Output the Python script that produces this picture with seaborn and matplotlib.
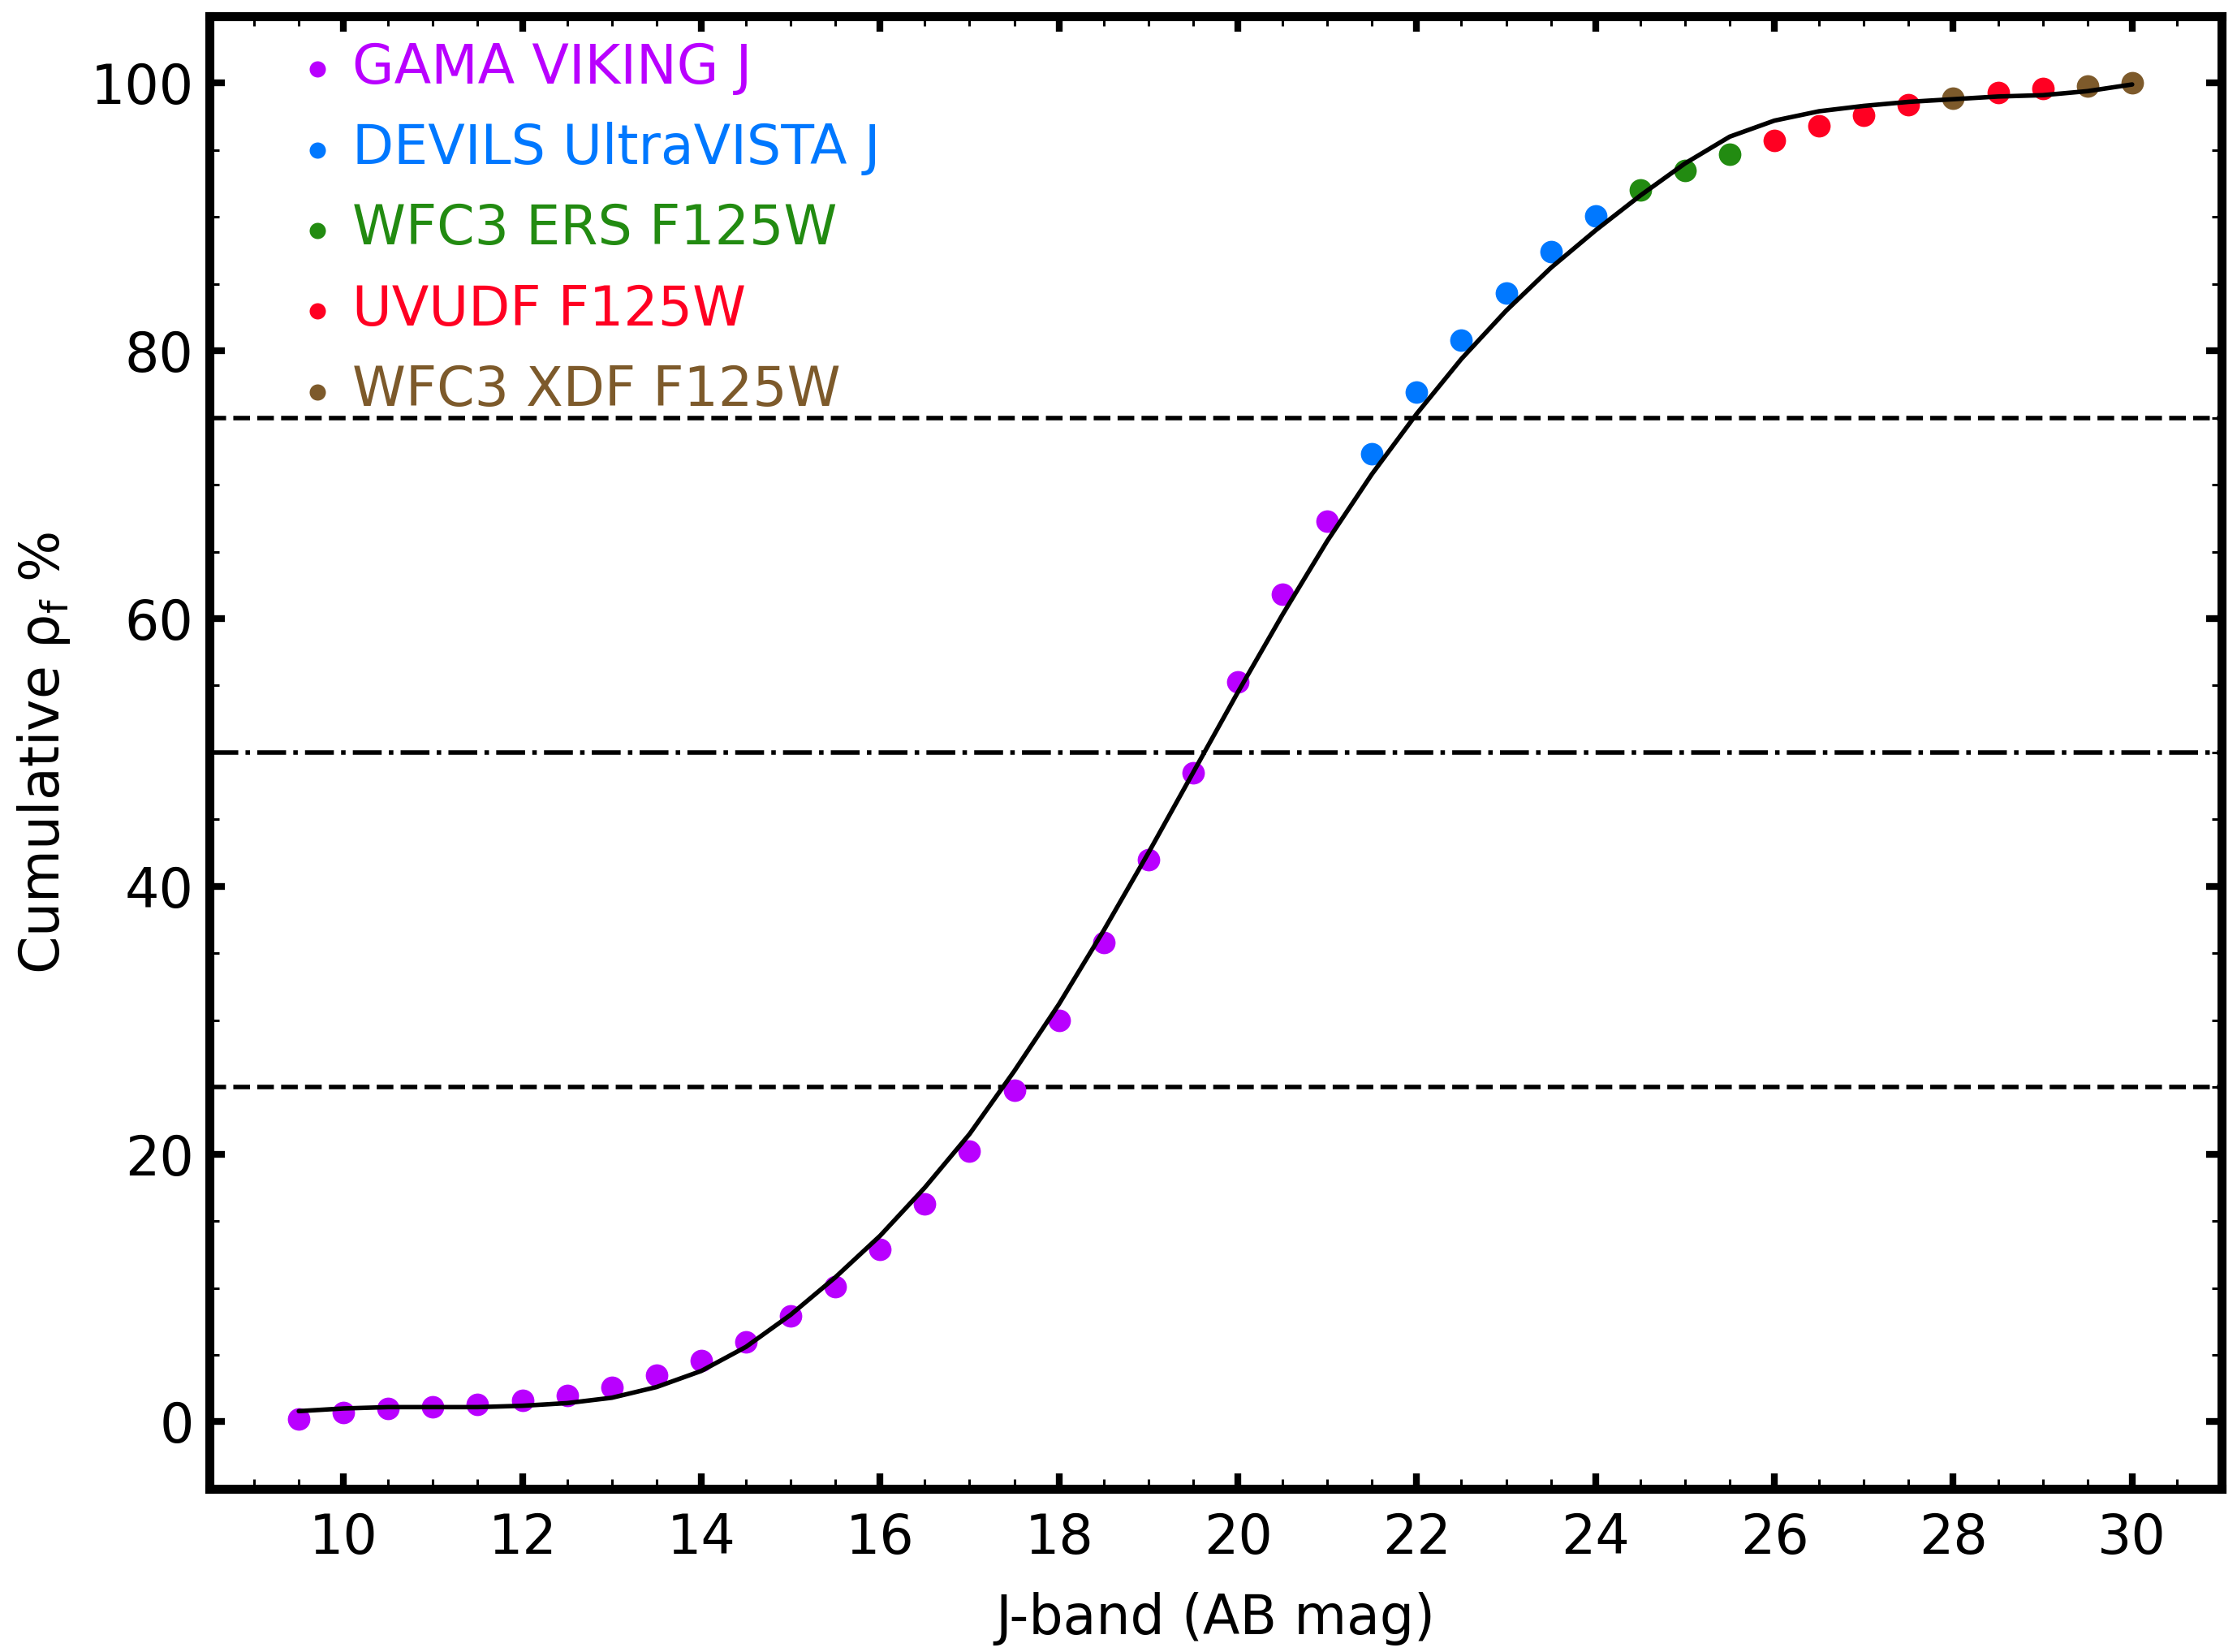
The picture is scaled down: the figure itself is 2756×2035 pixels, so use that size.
import numpy as np
import pandas as pd
import matplotlib
matplotlib.use('Agg')
import matplotlib.pyplot as plt
import seaborn as sns

# J-band magnitude bins and cumulative flux density fraction (%)
mag = [9.5, 10.0, 10.5, 11.0, 11.5, 12.0, 12.5, 13.0, 13.5, 14.0, 14.5, 15.0,
       15.5, 16.0, 16.5, 17.0, 17.5, 18.0, 18.5, 19.0, 19.5, 20.0, 20.5, 21.0,
       21.5, 22.0, 22.5, 23.0, 23.5, 24.0,
       24.5, 25.0, 25.5,
       26.0, 26.5, 27.0, 27.5, 28.0, 28.5, 29.0, 29.5, 30.0]
cum_pct = [0.2, 0.7, 1.0, 1.1, 1.3, 1.6, 2.0, 2.6, 3.5, 4.6, 6.0, 7.9,
           10.1, 12.9, 16.3, 20.2, 24.8, 30.0, 35.8, 42.0, 48.5, 55.3, 61.8, 67.3,
           72.3, 76.9, 80.8, 84.3, 87.4, 90.1,
           92.0, 93.5, 94.7,
           95.7, 96.8, 97.6, 98.4, 98.9, 99.3, 99.6, 99.8, 100.0]
survey = (['GAMA VIKING J'] * 24 + ['DEVILS UltraVISTA J'] * 6 +
          ['WFC3 ERS F125W'] * 3 +
          ['UVUDF F125W'] * 4 + ['WFC3 XDF F125W'] + ['UVUDF F125W'] * 2 +
          ['WFC3 XDF F125W'] * 2)

# smooth model curve
fit_mag = mag
fit_pct = [0.8, 1.0, 1.1, 1.1, 1.1, 1.2, 1.4, 1.8, 2.6, 3.8, 5.6, 8.0,
           10.8, 13.9, 17.5, 21.5, 26.2, 31.2, 36.7, 42.5, 48.5, 54.5, 60.3, 65.8,
           70.8, 75.3, 79.4, 83.0, 86.2, 89.0, 91.6, 94.0, 96.0,
           97.2, 97.9, 98.3, 98.6, 98.8, 99.0, 99.1, 99.4, 99.9]

quartiles = [25, 50, 75]
quartile_styles = ['--', '-.', '--']

surveys = ['GAMA VIKING J', 'DEVILS UltraVISTA J', 'WFC3 ERS F125W',
           'UVUDF F125W', 'WFC3 XDF F125W']
colors = ['#b900ff', '#0078ff', '#228b11', '#ff0022', '#7d5a2b']

df = pd.DataFrame({'mag': mag, 'cum': cum_pct, 'survey': survey})
fit = pd.DataFrame({'mag': fit_mag, 'cum': fit_pct})

sns.set_style('ticks')
plt.rcParams['font.family'] = ['DejaVu Sans']
plt.rcParams['mathtext.default'] = 'regular'
for key in ['axes.edgecolor', 'axes.labelcolor', 'text.color',
            'xtick.color', 'ytick.color']:
    plt.rcParams[key] = 'black'

fig = plt.figure(figsize=(13.78, 10.175), dpi=200)
ax = fig.add_axes([0.0936, 0.0988, 0.8995, 0.8914])

for name, col in zip(surveys, colors):
    sub = df[df['survey'] == name]
    sns.scatterplot(data=sub, x='mag', y='cum', color=col, s=100,
                    linewidth=0, label=name, ax=ax, zorder=2)

sns.lineplot(data=fit, x='mag', y='cum', color='black', linewidth=2,
             ax=ax, zorder=3, legend=False)

for q, ls in zip(quartiles, quartile_styles):
    ax.axhline(q, color='black', linestyle=ls, linewidth=2, zorder=1)

ax.set_xlim(8.5, 31)
ax.set_ylim(-5, 105)
ax.set_xticks(np.arange(10, 31, 2))
ax.set_xticks(np.arange(8.5, 31.01, 0.5), minor=True)
ax.set_yticks(np.arange(0, 101, 20))
ax.set_yticks(np.arange(-5, 105.01, 5), minor=True)

ax.tick_params(which='both', direction='in', top=True, right=True, colors='black')
ax.tick_params(which='major', length=7, width=3, labelsize=24)
ax.tick_params(which='minor', length=4.3, width=1.1)
ax.tick_params(axis='x', which='major', pad=10)
ax.tick_params(axis='y', which='major', pad=7)
for sp in ax.spines.values():
    sp.set_linewidth(4)
    sp.set_color('black')

ax.set_xlabel('J-band (AB mag)', fontsize=24, labelpad=12)
ax.set_ylabel(r'Cumulative $\mathregular{\rho_f}$ %', fontsize=24, labelpad=8)

handles, labels = ax.get_legend_handles_labels()
leg = ax.legend(handles, labels, loc='upper left', bbox_to_anchor=(0.0456, 0.983),
                frameon=False, fontsize=24, markerscale=0.72, handlelength=0.6,
                handletextpad=0.35, labelspacing=0.5, borderpad=0, borderaxespad=0)
for txt, col in zip(leg.get_texts(), colors):
    txt.set_color(col)

fig.savefig('out.png', dpi=200)
